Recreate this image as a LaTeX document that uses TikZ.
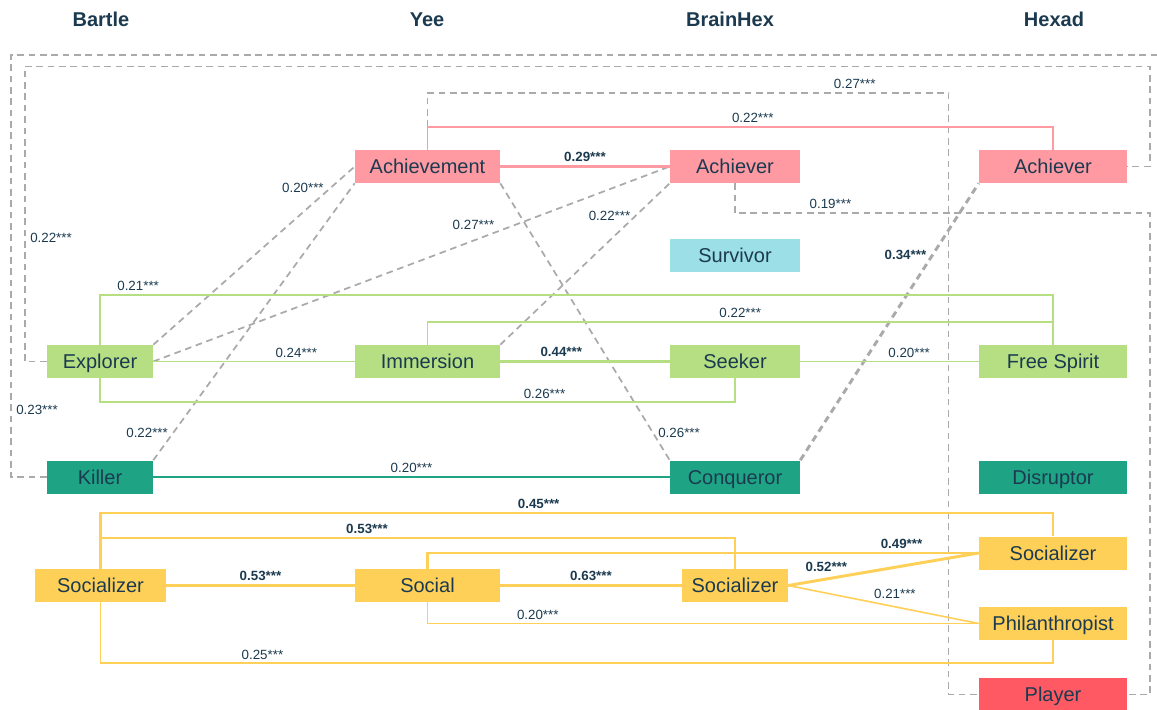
\documentclass[tikz,border=0pt]{standalone}
\usepackage{fontspec}
\setmainfont{Liberation Sans}
\usepackage{tikz}
\definecolor{ink}{HTML}{1B3A4F}
\definecolor{achcol}{HTML}{FF9AA2}
\definecolor{expcol}{HTML}{B5DF82}
\definecolor{kilcol}{HTML}{1EA385}
\definecolor{surcol}{HTML}{9CDFE6}
\definecolor{soccol}{HTML}{FFD057}
\definecolor{plycol}{HTML}{FF5A64}
\definecolor{dashcol}{HTML}{AAAAAA}
\tikzset{
  box/.style    = {rectangle, inner sep=0pt, minimum height=24.75pt, text=ink,
                   text height=10.7pt, text depth=0pt,
                   font=\fontsize{15}{18}\selectfont},
  achbox/.style = {box, fill=achcol},
  expbox/.style = {box, fill=expcol},
  kilbox/.style = {box, fill=kilcol},
  surbox/.style = {box, fill=surcol},
  socbox/.style = {box, fill=soccol},
  plybox/.style = {box, fill=plycol},
  colA/.style   = {minimum width=79.5pt},
  colB/.style   = {minimum width=108.75pt},
  colC/.style   = {minimum width=97.5pt},
  colD/.style   = {minimum width=111pt},
  colhead/.style= {text=ink, font=\fontsize{15}{18}\selectfont\bfseries},
  lbl/.style    = {text=ink, inner sep=1.5pt, font=\fontsize{10}{12}\selectfont},
  lblb/.style   = {lbl, font=\fontsize{10}{12}\selectfont\bfseries},
  achln/.style  = {draw=achcol, line width=1.2pt},
  expln/.style  = {draw=expcol, line width=1.2pt},
  killn/.style  = {draw=kilcol, line width=1.2pt},
  socln/.style  = {draw=soccol, line width=1.2pt},
  heavy/.style  = {line width=1.8pt},
  dsh/.style    = {draw=dashcol, line width=1.3pt, dash pattern=on 5pt off 3.5pt},
  dshb/.style   = {dsh, line width=2.2pt},
}
\newcommand{\corr}[1]{#1***}

\begin{document}
\begin{tikzpicture}[x=0.75pt, y=-0.75pt]
\useasboundingbox (0,0) rectangle (1157,710);

% column heads
\foreach \x/\t in {101/Bartle, 427/Yee, 730/BrainHex, 1054/Hexad}
  \node[colhead] (h\t) at (\x,19.5) {\t};

% Yee / BrainHex / Hexad / Bartle types
\node[achbox, colB] (yach)  at (427.5,166.5) {Achievement};
\node[achbox, colC] (bach)  at (735,166.5)   {Achiever};
\node[achbox, colD] (xach)  at (1053,166.5)  {Achiever};
\node[surbox, colC] (surv)  at (735,255.5)   {Survivor};
\node[expbox, colA] (expl)  at (100,361.5)   {Explorer};
\node[expbox, colB] (imm)   at (427.5,361.5) {Immersion};
\node[expbox, colC] (seek)  at (735,361.5)   {Seeker};
\node[expbox, colD] (free)  at (1053,361.5)  {Free Spirit};
\node[kilbox, colA] (kill)  at (100,477)     {Killer};
\node[kilbox, colC] (conq)  at (735,477)     {Conqueror};
\node[kilbox, colD] (disr)  at (1053,477)    {Disruptor};
\node[socbox, minimum width=98.25pt] (bsoc) at (100.5,585.5) {Socializer};
\node[socbox, colB] (ysoc)  at (427.5,585.5) {Social};
\node[socbox, colA] (bhsoc) at (735,585.5)   {Socializer};
\node[socbox, colD] (xsoc)  at (1053,553)    {Socializer};
\node[socbox, colD] (phil)  at (1053,623.5)  {Philanthropist};
\node[plybox, colD] (play)  at (1053,694.5)  {Player};
\coordinate (rim) at (1157,55);

% dashed links
\draw[dsh] (kill.west) -- ++(-36,0) |- node[pos=0.08, right=2pt, lbl] (v23) {\corr{0.23}} (rim);
\draw[dsh] (expl.west) -- ++(-22,0) |- node[pos=0.21, right=2pt, lbl] (v22a) {\corr{0.22}}
  ++(1125,-295) |- (xach.east);
\draw[dsh] (yach.north) -- ++(0,-57) -- node[pos=0.82, above=1pt, lbl] (v27a) {\corr{0.27}}
  ++(521,0) |- (play.west);
\draw[dsh] (bach.south) -- ++(0,30) -- node[pos=0.23, above=1pt, lbl] (v19) {\corr{0.19}}
  ++(415,0) |- (play.east);
\draw[dsh] (expl.north east) -- node[pos=0.88, left=3pt, lbl] (v20a) {\corr{0.20}} (yach.west);
\draw[dsh] (kill.north east) -- node[pos=0.1, left=2pt, lbl] (v22b) {\corr{0.22}} (yach.south west);
\draw[dsh] (expl.east) -- node[pos=0.62, above=6pt, lbl] (v27b) {\corr{0.27}} (bach.west);
\draw[dsh] (imm.north east) -- node[pos=0.8, left=2pt, lbl] (v22c) {\corr{0.22}} (bach.south west);
\draw[dsh] (yach.south east) -- node[pos=0.9, right=2pt, lbl] (v26a) {\corr{0.26}} (conq.north west);
\draw[dshb] (conq.north east) -- node[pos=0.74, left=2pt, lblb] (v34) {\corr{0.34}} (xach.south west);

% achiever links
\draw[achln, heavy] (yach.east) -- node[above=1pt, lblb] (v29) {\corr{0.29}} (bach.west);
\draw[achln] (yach.north) -- ++(0,-23) -| node[pos=0.26, above=1pt, lbl] (v22d) {\corr{0.22}} (xach.north);

% explorer links
\draw[expln] (expl.north) -- ++(0,-50) -| node[pos=0.02, above=1pt, lbl] (v21a) {\corr{0.21}} (free.north);
\draw[expln] (imm.north) -- ++(0,-22.5) -| node[pos=0.25, above=1pt, lbl] (v22e) {\corr{0.22}} (free.north);
\draw[expln] (expl.east) -- node[pos=0.71, above=1pt, lbl] (v24) {\corr{0.24}} (imm.west);
\draw[expln, heavy] (imm.east) -- node[pos=0.36, above=1pt, lblb] (v44) {\corr{0.44}} (seek.west);
\draw[expln] (seek.east) -- node[pos=0.61, above=1pt, lbl] (v20b) {\corr{0.20}} (free.west);
\draw[expln] (expl.south) -- ++(0,24) -| node[pos=0.35, above=1pt, lbl] (v26b) {\corr{0.26}} (seek.south);

% killer links
\draw[killn] (kill.east) -- node[above=1pt, lbl] (v20c) {\corr{0.20}} (conq.west);

% socializer links
\draw[socln, heavy] (bsoc.north) -- ++(0,-56) -| node[pos=0.23, above=1pt, lblb] (v45) {\corr{0.45}} (xsoc.north);
\draw[socln, heavy] (bsoc.north) -- ++(0,-31) -| node[pos=0.21, above=1pt, lblb] (v53a) {\corr{0.53}} (bhsoc.north);
\draw[socln, heavy] (bsoc.east) -- node[above=1pt, lblb] (v53b) {\corr{0.53}} (ysoc.west);
\draw[socln, heavy] (ysoc.east) -- node[above=1pt, lblb] (v63) {\corr{0.63}} (bhsoc.west);
\draw[socln, heavy] (ysoc.north) |- node[pos=0.93, above=1pt, lblb] (v49) {\corr{0.49}} (xsoc.west);
\draw[socln, line width=2.2pt] (bhsoc.east) -- node[pos=0.2, above=3pt, lblb] (v52) {\corr{0.52}} (xsoc.west);
\draw[socln] (bhsoc.east) -- node[pos=0.56, above=4pt, lbl] (v21b) {\corr{0.21}} (phil.west);
\draw[socln] (ysoc.south) |- node[pos=0.6, above=1pt, lbl] (v20d) {\corr{0.20}} (phil.west);
\draw[socln] (bsoc.south) -- ++(0,61) -| node[pos=0.085, above=1pt, lbl] (v25) {\corr{0.25}} (phil.south);
\end{tikzpicture}
\end{document}
